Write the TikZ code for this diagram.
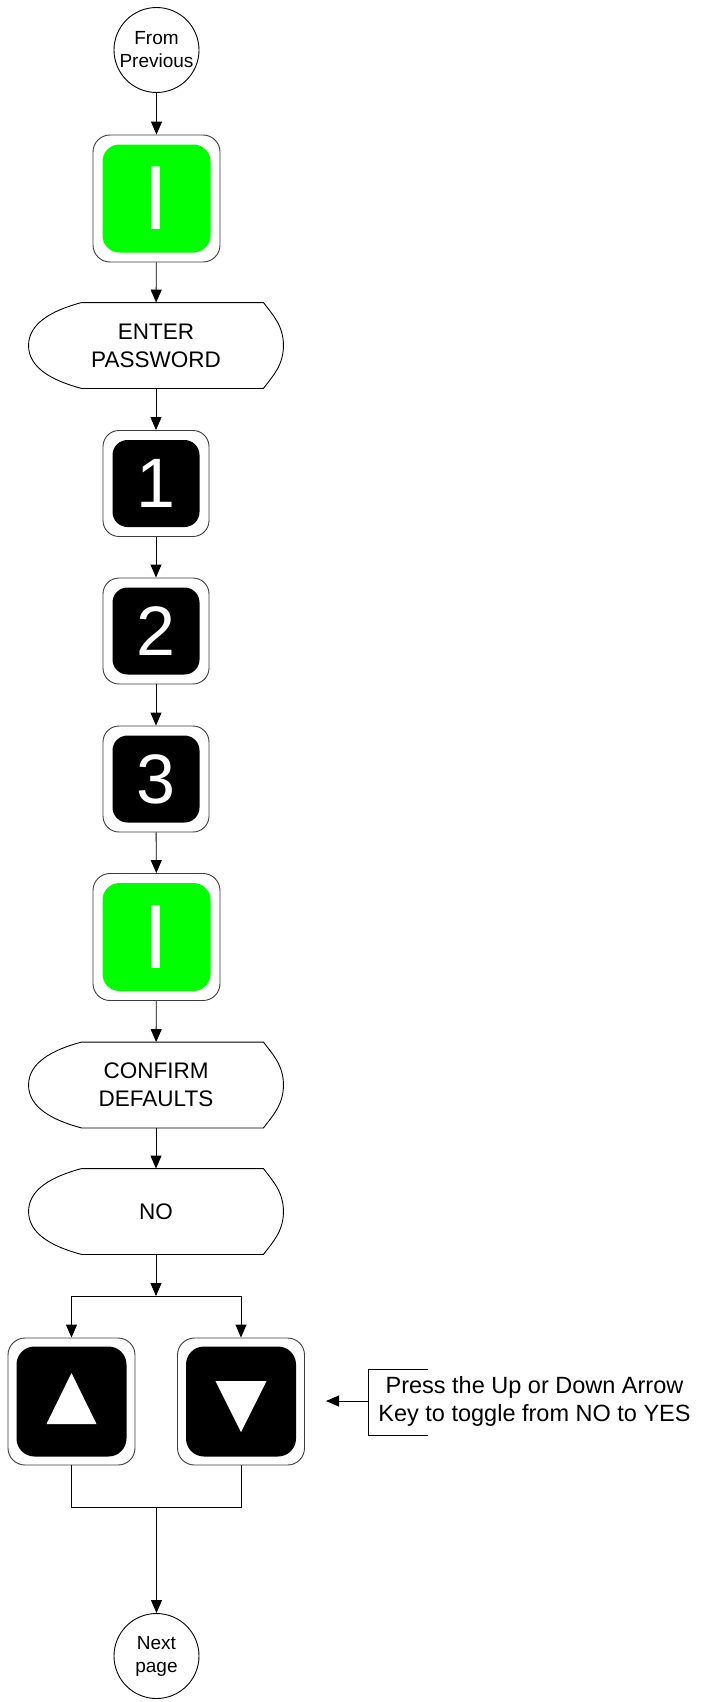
\documentclass[tikz,border=0pt]{standalone}
\usepackage{fontspec}
\setmainfont{Liberation Sans}
\usetikzlibrary{arrows.meta}
\definecolor{keygreen}{RGB}{0,255,0}
\definecolor{keyedge}{RGB}{60,60,60}
\newcommand\dispshape[1]{%
  \draw ([xshift=53pt]#1.north west) -- ([xshift=-20pt]#1.north east)
    .. controls +(9,12) and +(0,-20) .. (#1.east)
    .. controls +(0,20) and +(9,-12) .. ([xshift=-20pt]#1.south east)
    -- ([xshift=53pt]#1.south west)
    .. controls +(-30,-8) and +(0,22) .. (#1.west)
    .. controls +(0,-22) and +(-30,8) .. cycle;}
\begin{document}
\begin{tikzpicture}[x=1pt,y=-1pt,line width=0.9pt,
  arr/.style={-{Triangle[length=13pt,width=11pt]}},
  conn/.style={circle,draw,minimum size=85pt,inner sep=0pt,align=center,
    font=\fontsize{19}{23}\selectfont},
  disp/.style={minimum width=254pt,minimum height=85pt,inner sep=0pt,align=center,
    font=\fontsize{22.5}{28}\selectfont},
  bigkey/.style={draw=keyedge,rounded corners=17pt,minimum size=127pt,inner sep=0pt},
  smallkey/.style={draw=keyedge,rounded corners=16pt,minimum size=106pt,inner sep=0pt},
  greenface/.style={fill=keygreen,rounded corners=17pt,minimum size=108pt,inner sep=0pt,
    text=white,font=\fontsize{91}{91}\selectfont},
  digitface/.style={fill=black,rounded corners=15pt,minimum size=87pt,inner sep=0pt,
    text=white,font=\fontsize{70}{70}\selectfont},
  arrowface/.style={fill=black,rounded corners=18pt,minimum size=110pt,inner sep=0pt}]
\useasboundingbox (0,0) rectangle (702,1702);
\fill[white] (0,0) rectangle (702,1702);

% start connector
\node[conn] (prev) at (156.5,50) {From\\Previous};

% green key 1
\node[bigkey] (g1) at (156.5,198.5) {};
\node[greenface] (g1i) at (g1.center) {I};

% enter password
\node[disp] (enter) at (156,345.5) {ENTER\\PASSWORD};
\dispshape{enter}

% digit keys
\node[smallkey] (k1) at (156,483.5) {};
\node[digitface] (k1i) at (k1.center) {1};
\node[smallkey] (k2) at (156,631) {};
\node[digitface] (k2i) at (k2.center) {2};
\node[smallkey] (k3) at (156,779) {};
\node[digitface] (k3i) at (k3.center) {3};

% green key 2
\node[bigkey] (g2) at (156.5,937) {};
\node[greenface] (g2i) at (g2.center) {I};

% confirm defaults
\node[disp] (conf) at (156,1085) {CONFIRM\\DEFAULTS};
\dispshape{conf}
\node[disp] (no) at (156,1211.5) {NO};
\dispshape{no}

% arrow keys
\node[bigkey] (up) at (71.5,1401.5) {};
\node[arrowface] (upi) at (up.center) {};
\fill[white] (upi.center) ++(0,-28.5) -- ++(25,51) -- ++(-50,0) -- cycle;
\node[bigkey] (dn) at (241,1401.5) {};
\node[arrowface] (dni) at (dn.center) {};
\fill[white] (dni.center) ++(-25.5,-20.5) -- ++(51,0) -- ++(-25.5,51) -- cycle;

% end connector
\node[conn] (next) at (156.5,1656) {Next\\page};

% connectors
\draw[arr] (prev) -- (g1);
\draw[arr] (g1) -- (enter);
\draw[arr] (enter) -- (k1);
\draw[arr] (k1) -- (k2);
\draw[arr] (k2) -- (k3);
\draw[arr] (k3) -- (g2);
\draw[arr] (g2) -- (conf);
\draw[arr] (conf) -- (no);

\coordinate (j) at (156,1296);
\coordinate (jl) at (71.5,1296);
\coordinate (jr) at (241,1296);
\draw[arr] (no.south) -- (j);
\draw (jl) -- (jr);
\draw[arr] (jl) -- (up.north);
\draw[arr] (jr) -- (dn.north);

\coordinate (bot) at (156.5,1507);
\draw (up.south) |- (bot) -| (dn.south);
\draw[arr] (bot) -- (next);

% callout
\node[align=center,font=\fontsize{23.5}{28}\selectfont] (note) at (534.5,1401) {Press the Up or Down Arrow\\Key to toggle from NO to YES};
\coordinate (bt) at (428,1369);
\coordinate (bb) at (428,1435);
\coordinate (bm) at (368,1401);
\coordinate (tip) at (326,1401);
\draw (bt) -- (368,1369) -- (368,1435) -- (bb);
\draw[arr] (bm) -- (tip);
\end{tikzpicture}
\end{document}
